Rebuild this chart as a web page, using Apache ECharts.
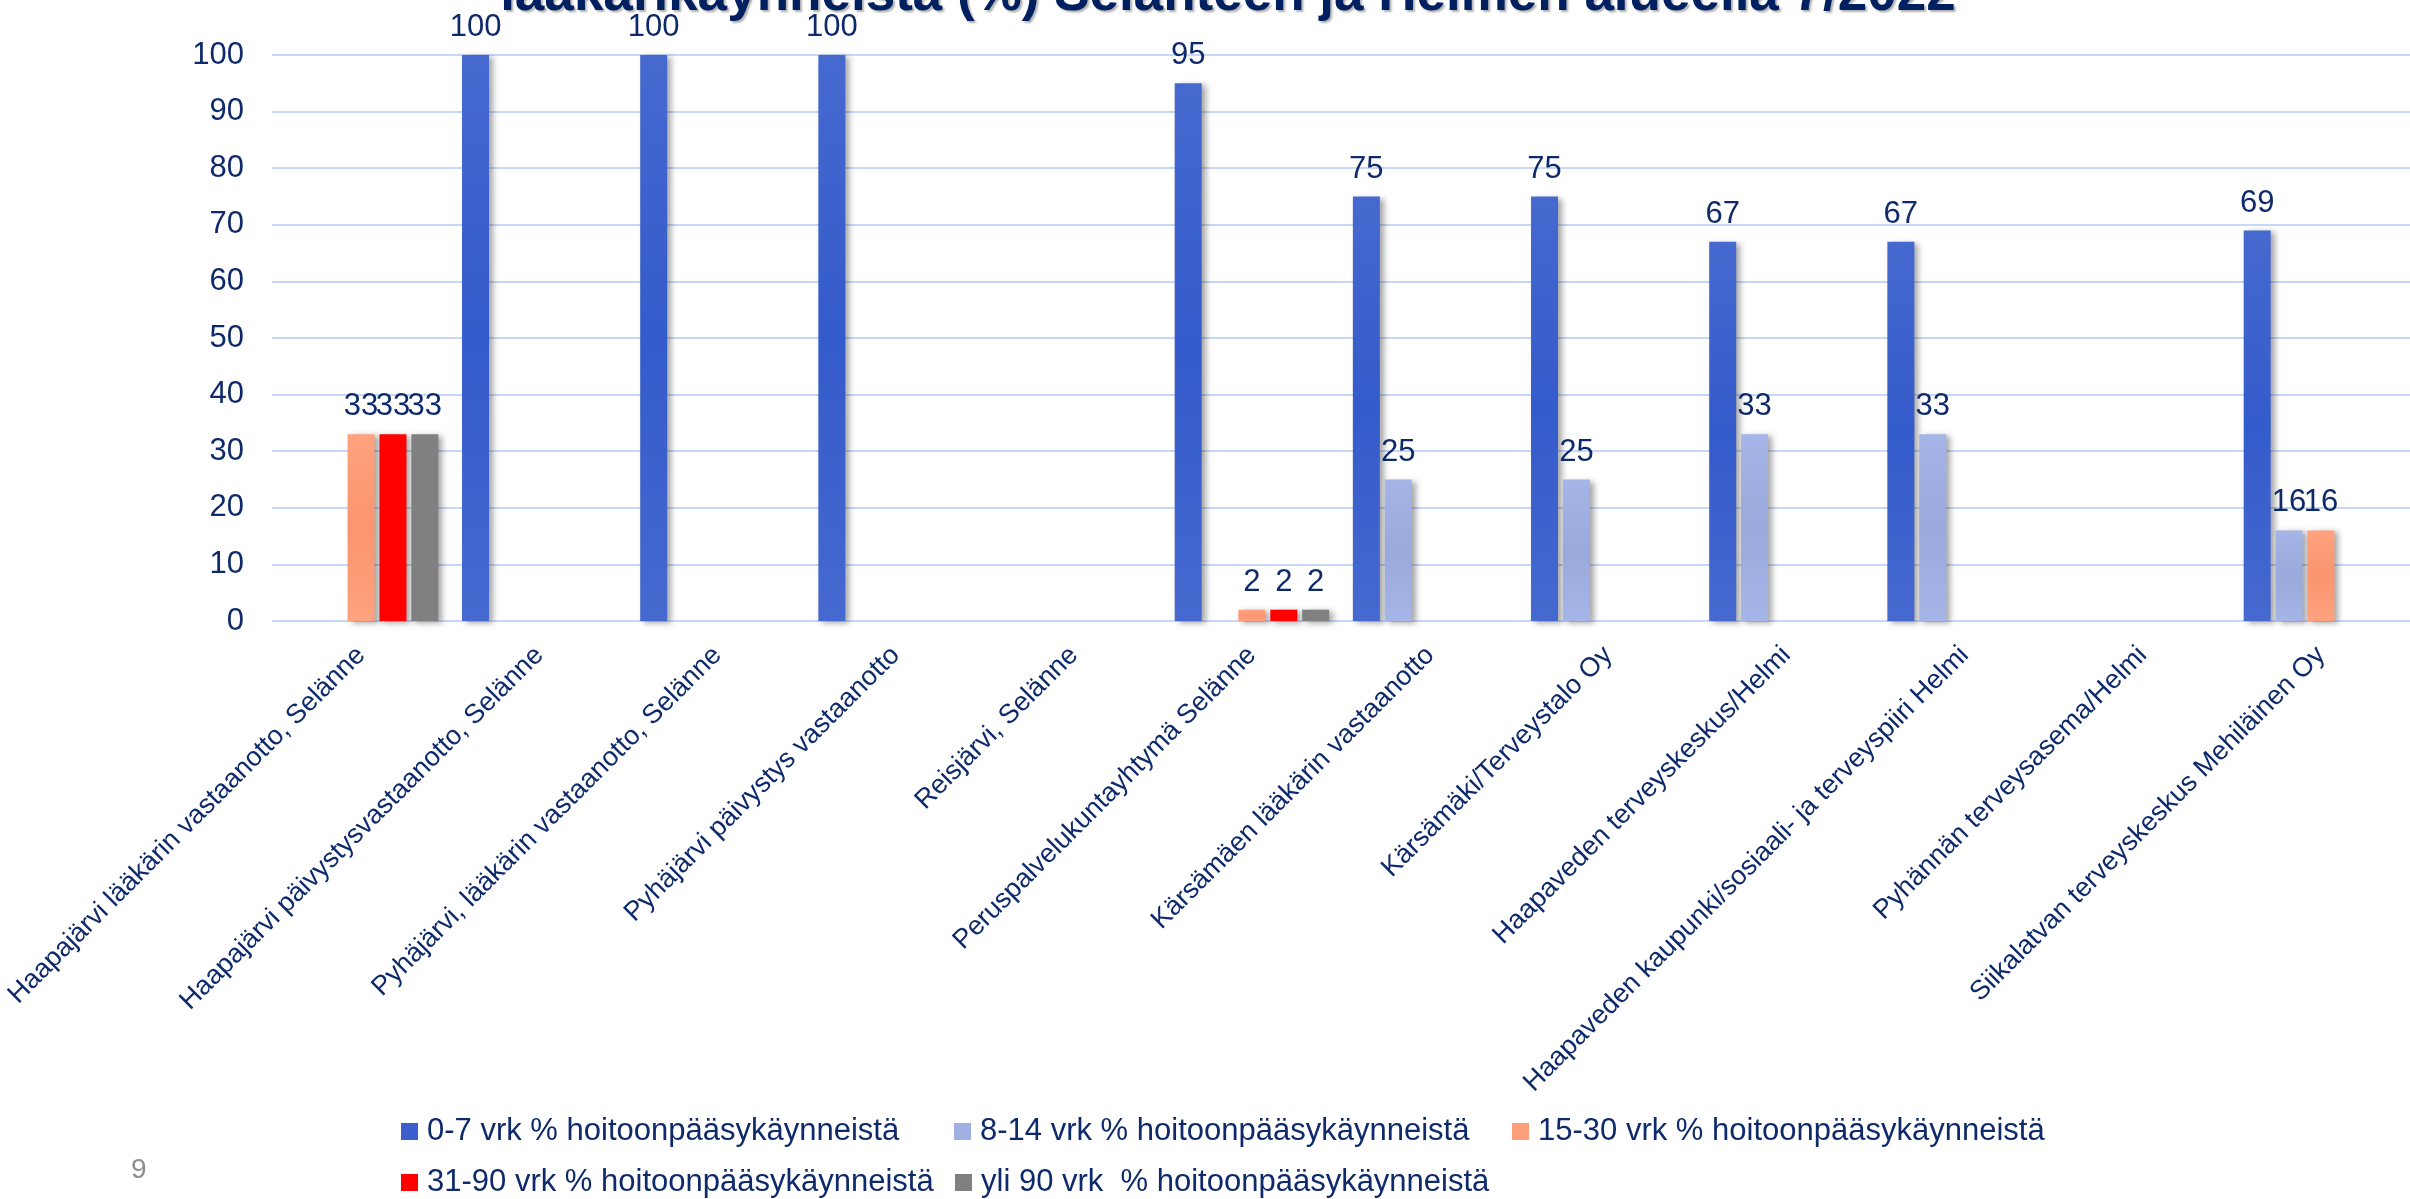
<!DOCTYPE html>
<html>
<head>
<meta charset="utf-8">
<script src="https://cdn.jsdelivr.net/npm/echarts@6/dist/echarts.min.js"></script>
<style>
html, body { margin: 0; padding: 0; background: #fff; }
#main-echarts { width: 2410px; height: 1199px; }
</style>
</head>
<body>
<div id="main-echarts"></div>
<script>
// toimipisteet
var categories = [
	'Haapajärvi lääkärin vastaanotto, Selänne',
	'Haapajärvi päivystysvastaanotto, Selänne',
	'Pyhäjärvi, lääkärin vastaanotto, Selänne',
	'Pyhäjärvi päivystys vastaanotto',
	'Reisjärvi, Selänne',
	'Peruspalvelukuntayhtymä Selänne',
	'Kärsämäen lääkärin vastaanotto',
	'Kärsämäki/Terveystalo Oy',
	'Haapaveden terveyskeskus/Helmi',
	'Haapaveden kaupunki/sosiaali- ja terveyspiiri Helmi',
	'Pyhännän terveysasema/Helmi',
	'Siikalatvan terveyskeskus Mehiläinen Oy'
];
var seriesNames = [
	'0-7 vrk % hoitoonpääsykäynneistä',
	'8-14 vrk % hoitoonpääsykäynneistä',
	'15-30 vrk % hoitoonpääsykäynneistä',
	'31-90 vrk % hoitoonpääsykäynneistä',
	'yli 90 vrk  % hoitoonpääsykäynneistä'
];
var vrk0_7   = ['-', 100, 100, 100, '-', 95, 75, 75, 67, 67, '-', 69];
var vrk8_14  = ['-', '-', '-', '-', '-', '-', 25, 25, 33, 33, '-', 16];
var vrk15_30 = [33, '-', '-', '-', '-', 2, '-', '-', '-', '-', '-', 16];
var vrk31_90 = [33, '-', '-', '-', '-', 2, '-', '-', '-', '-', '-', '-'];
var vrkYli90 = [33, '-', '-', '-', '-', 2, '-', '-', '-', '-', '-', '-'];
var yTicks = [0, 10, 20, 30, 40, 50, 60, 70, 80, 90, 100];

var navy = '#0E2A6B';
var font = 'Arial, "Liberation Sans", sans-serif';

function grad(top, mid){
	return new echarts.graphic.LinearGradient(0, 0, 0, 1, [
		{offset: 0, color: top},
		{offset: 0.5, color: mid},
		{offset: 1, color: top}
	]);
}
var fills = [
	grad('#4669CF', '#345BCB'),
	grad('#A5B5E7', '#99A9DB'),
	grad('#FFA27F', '#F9956F'),
	'#FF0000',
	'#808080'
];
var solid = ['#3B5FCD', '#A0B0E3', '#FF9E7B', '#FF0000', '#808080'];
var allData = [vrk0_7, vrk8_14, vrk15_30, vrk31_90, vrkYli90];

var series = [];
for (var i = 0; i < seriesNames.length; i++) {
	series.push({
		name: seriesNames[i],
		type: 'bar',
		data: allData[i],
		barWidth: 27,
		barGap: '18%',
		itemStyle: {
			color: fills[i],
			shadowColor: 'rgba(0,0,0,0.35)',
			shadowBlur: 6,
			shadowOffsetX: 4,
			shadowOffsetY: 2
		},
		label: {
			show: true,
			position: 'top',
			distance: 12,
			color: navy,
			fontSize: 31,
			fontFamily: font
		}
	});
}

/*legenda: kolme saraketta, kaksi riviä*/
var legendPos = [[401, 1116], [954, 1116], [1512, 1116], [401, 1167], [955, 1167]];
var legends = [];
for (var j = 0; j < seriesNames.length; j++) {
	legends.push({
		left: legendPos[j][0],
		top: legendPos[j][1],
		padding: 0,
		icon: 'rect',
		itemWidth: 17,
		itemHeight: 17,
		selectedMode: false,
		data: [{name: seriesNames[j], itemStyle: {color: solid[j], shadowBlur: 0, shadowOffsetX: 0, shadowOffsetY: 0}}],
		textStyle: {color: navy, fontSize: 31, fontFamily: font, padding: [0, 0, 0, 4]}
	});
}

var option = {
	backgroundColor: '#fff',
	animation: false,
	title: {
		text: 'lääkärikäynneistä (%) Selänteen ja Helmen alueella 7/2022',
		left: 1223,
		top: -36,
		textAlign: 'center',
		textStyle: {
			color: '#002060',
			fontSize: 53,
			fontWeight: 'bold',
			fontFamily: font,
			textShadowColor: 'rgba(0,0,0,0.3)',
			textShadowOffsetX: 2,
			textShadowOffsetY: 2,
			textShadowBlur: 2
		}
	},
	legend: legends,
	grid: {left: 272, right: -10, top: 55, bottom: 578},
	xAxis: {
		type: 'category',
		data: categories,
		axisLine: {show: false},
		axisTick: {show: false},
		axisLabel: {
			interval: 0,
			rotate: 45,
			margin: 30,
			color: navy,
			fontSize: 27,
			fontFamily: font
		}
	},
	yAxis: {
		type: 'value',
		min: yTicks[0],
		max: yTicks[yTicks.length - 1],
		interval: 10,
		axisLine: {show: false},
		axisTick: {show: false},
		splitLine: {lineStyle: {color: '#C6D7F7', width: 2}},
		axisLabel: {margin: 28, color: navy, fontSize: 31, fontFamily: font}
	},
	graphic: [{
		type: 'text',
		left: 131,
		top: 1156,
		style: {text: '9', fill: '#8C8C8C', fontSize: 28, fontFamily: font}
	}],
	series: series
};

var myChart = echarts.init(document.getElementById('main-echarts'));
myChart.setOption(option);
</script>
</body>
</html>
